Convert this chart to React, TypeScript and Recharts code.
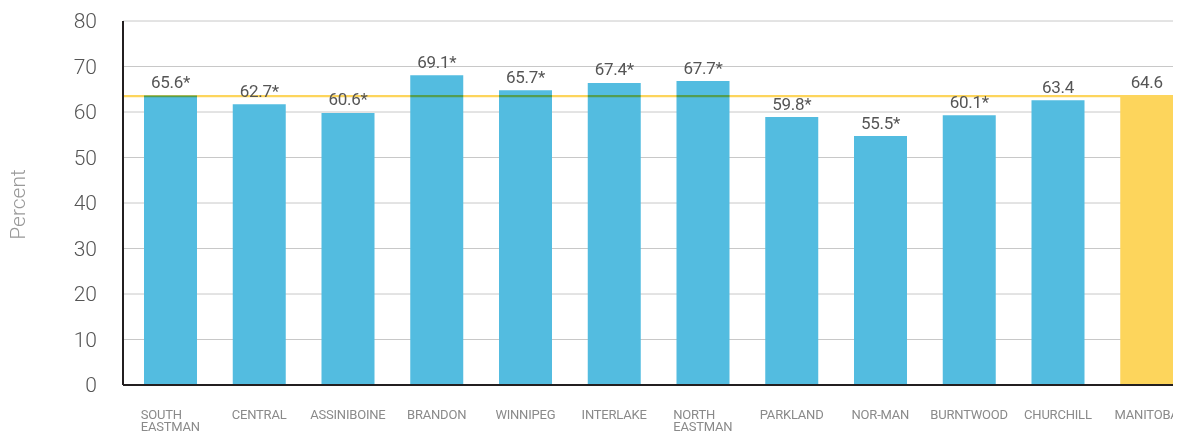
import React from 'react';
import { BarChart, Bar, XAxis, YAxis, CartesianGrid, ReferenceLine, LabelList, Label } from 'recharts';

const categories = [
  'SOUTH\nEASTMAN', 'CENTRAL', 'ASSINIBOINE', 'BRANDON', 'WINNIPEG', 'INTERLAKE',
  'NORTH\nEASTMAN', 'PARKLAND', 'NOR-MAN', 'BURNTWOOD', 'CHURCHILL', 'MANITOBA',
];
const barValues = [63.6, 61.7, 59.8, 68.1, 64.8, 66.4, 66.8, 58.9, 54.7, 59.3, 62.6, 63.7];
const valueLabels = ['65.6*', '62.7*', '60.6*', '69.1*', '65.7*', '67.4*', '67.7*', '59.8*', '55.5*', '60.1*', '63.4', '64.6'];
const highlightCategory = 'MANITOBA';
const referenceValue = 63.5;
const yTicks = [0, 10, 20, 30, 40, 50, 60, 70, 80];
const yAxisTitle = 'Percent';

const BLUE = '#53BCE0';
const YELLOW = '#FDD55C';
const AXIS = '#231F20';
const FONT = 'Roboto, sans-serif';

const rows = categories.map((c, i) => ({
  category: c,
  blue: c === highlightCategory ? null : barValues[i],
  yellow: c === highlightCategory ? barValues[i] : null,
}));

let ctx: CanvasRenderingContext2D | null = null;
const measure = (t: string, font: string) => {
  if (!ctx) ctx = document.createElement('canvas').getContext('2d');
  if (!ctx) return t.length * 8;
  ctx.font = font;
  return ctx.measureText(t).width + t.length * -0.2;
};

const XTick = (props: any) => {
  const { x, y, payload } = props;
  const lines = String(payload.value).split('\n');
  const style = { fontFamily: FONT, fontSize: 13, fill: '#8a8a8a', letterSpacing: -0.2 };
  if (lines.length === 1) {
    return (
      <text x={x} y={y} textAnchor="middle" {...style}>
        {lines[0]}
      </text>
    );
  }
  const w = Math.max(...lines.map((l) => measure(l, `13px ${FONT}`)));
  const left = x - w / 2;
  return (
    <text x={left} y={y} textAnchor="start" {...style}>
      {lines.map((l, i) => (
        <tspan key={i} x={left} dy={i === 0 ? 0 : 12}>
          {l}
        </tspan>
      ))}
    </text>
  );
};

const makeLabel = (key: 'blue' | 'yellow') => (props: any) => {
  const { x, y, width, value } = props;
  const idx = categories.indexOf(String(value));
  if (idx < 0 || rows[idx][key] == null) return null;
  return (
    <text
      x={Number(x) + Number(width) / 2}
      y={Number(y) - 7.5}
      textAnchor="middle"
      fontFamily={FONT}
      fontSize={17}
      fill="#555"
      letterSpacing={-0.3}
    >
      {valueLabels[idx]}
    </text>
  );
};

const YTitle = (props: any) => {
  const vb = props.viewBox || { x: 0, y: 13, width: 115, height: 364 };
  const cx = vb.x + 17;
  const cy = vb.y + vb.height / 2 + 1.5;
  return (
    <text
      x={cx}
      y={cy}
      transform={`rotate(-90, ${cx}, ${cy})`}
      textAnchor="middle"
      fontFamily={FONT}
      fontWeight={300}
      fontSize={21}
      fill="#999"
    >
      {yAxisTitle}
    </text>
  );
};

export default function App() {
  return (
    <div style={{ width: 1173, height: 424, overflow: 'hidden' }}>
      <style>{`.recharts-reference-line-line{mix-blend-mode:multiply}`}</style>
      <BarChart
        width={1183}
        height={424}
        data={rows}
        margin={{ top: 13, right: 0, bottom: 0, left: 0 }}
        barCategoryGap={0}
      >
        <CartesianGrid vertical={false} stroke="#c8c8c8" strokeWidth={1} />
        <XAxis
          dataKey="category"
          type="category"
          interval={0}
          tickLine={false}
          tickSize={0}
          tickMargin={34}
          height={47}
          padding={{ left: 3, right: 0 }}
          axisLine={{ stroke: AXIS, strokeWidth: 2 }}
          tick={<XTick />}
        />
        <YAxis
          width={115}
          domain={[0, 80]}
          ticks={yTicks}
          tickLine={false}
          tickSize={0}
          tickMargin={26}
          axisLine={{ stroke: AXIS, strokeWidth: 2 }}
          tick={{ fill: '#555', fontSize: 21, fontFamily: FONT, fontWeight: 300 }}
        >
          <Label content={<YTitle />} />
        </YAxis>
        <Bar dataKey="blue" stackId="s" fill={BLUE} barSize={53} isAnimationActive={false}>
          <LabelList dataKey="category" content={makeLabel('blue')} />
        </Bar>
        <ReferenceLine y={referenceValue} stroke={YELLOW} strokeWidth={2.3} {...({ zIndex: 350 } as any)} />
        <Bar dataKey="yellow" stackId="s" fill={YELLOW} barSize={53} isAnimationActive={false} {...({ zIndex: 450 } as any)}>
          <LabelList dataKey="category" content={makeLabel('yellow')} />
        </Bar>
      </BarChart>
    </div>
  );
}
